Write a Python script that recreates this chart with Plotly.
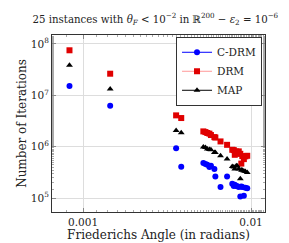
import plotly.graph_objects as go

angles = [0.00083, 0.00145, 0.00358, 0.00384,
          0.0052, 0.00535, 0.00549, 0.00565, 0.00577, 0.00605, 0.00613,
          0.00658, 0.00720, 0.00773, 0.00789, 0.00800, 0.00817, 0.00828,
          0.00845, 0.00863, 0.00875, 0.00887, 0.00906, 0.00925, 0.00949]

drm = [7.54e7, 2.64e7, 4.08e6, 3.62e6,
       1.99e6, 1.93e6, 1.85e6, 1.80e6, 1.69e6, 1.54e6, 1.51e6,
       1.27e6, 1.09e6, 8.73e5, 8.61e5, 6.97e5, 8.12e5, 7.36e5,
       8.12e5, 7.29e5, 4.70e5, 6.58e5, 5.75e5, 6.50e5, 6.67e5]

map_ = [3.85e7, 1.33e7, 2.08e6, 1.87e6,
        9.85e5, 9.64e5, 9.0e5, 8.81e5, 8.73e5, 7.76e5, 7.69e5,
        6.67e5, 5.75e5, 4.14e5, 4.02e5, 3.67e5, 4.26e5, 4.20e5,
        3.67e5, 2.38e5, 3.51e5, 3.47e5, 3.36e5, 3.31e5, 3.16e5]

cdrm = [1.52e7, 6.28e6, 9.4e5, 4.07e5,
        4.81e5, 4.59e5, 4.46e5, 4.02e5, 4.26e5, 3.67e5, 2.65e5,
        1.64e5, 2.65e5, 1.90e5, 1.73e5, 1.83e5, 1.73e5, 1.71e5,
        1.64e5, 1.08e5, 1.68e5, 1.64e5, 1.11e5, 1.60e5, 1.55e5]

y_ticks = [1e5, 1e6, 1e7, 1e8]
y_labels = ["10<sup>5</sup>", "10<sup>6</sup>", "10<sup>7</sup>", "10<sup>8</sup>"]
x_ticks = [0.001, 0.01]
x_labels = ["0.001", "0.01"]

FONT = "DejaVu Serif"

series = [
    ("C-DRM", cdrm, "blue", "blue", "circle", 6),
    ("DRM", drm, "#e00000", "#ff9999", "square", 6),
    ("MAP", map_, "black", "black", "triangle-up", 6),
]

fig = go.Figure()
for name, vals, col, lcol, sym, sz in series:
    fig.add_trace(go.Scatter(x=angles, y=vals, mode="markers", name=name,
                             showlegend=False,
                             marker=dict(color=col, symbol=sym, size=sz)))
for name, vals, col, lcol, sym, sz in series:
    fig.add_trace(go.Scatter(x=[None], y=[None], mode="lines+markers", name=name,
                             line=dict(color=lcol, width=1),
                             marker=dict(color=col, symbol=sym, size=sz)))

axis_common = dict(
    type="log", showline=True, linecolor="#333", linewidth=1, mirror="ticks",
    ticks="inside", ticklen=4, tickcolor="#888",
    showgrid=True, gridcolor="#dddddd", gridwidth=1, zeroline=False,
    minor=dict(ticks="inside", ticklen=2, tickcolor="#aaa", showgrid=False),
    tickfont=dict(family=FONT, size=10.5, color="#222"),
)

fig.update_layout(
    width=289, height=243,
    margin=dict(l=44, r=32, t=27, b=39),
    paper_bgcolor="white", plot_bgcolor="white",
    title=dict(text="25 instances with <i>θ<sub>F</sub></i> &lt; 10<sup>−2</sup> in ℝ<sup>200</sup> − <i>ε</i><sub>2</sub> = 10<sup>−6</sup>",
               x=0.51, xanchor="center", y=0.955, yanchor="middle",
               font=dict(family=FONT, size=10.2, color="#222")),
    xaxis=dict(axis_common, range=[-3.185, -1.917], tickvals=x_ticks, ticktext=x_labels,
               title=dict(text="Friederichs Angle (in radians)", standoff=1,
                          font=dict(family=FONT, size=12, color="#222"))),
    yaxis=dict(axis_common, range=[4.73, 8.175], tickvals=y_ticks, ticktext=y_labels,
               title=dict(text="Number of Iterations", standoff=1,
                          font=dict(family=FONT, size=12, color="#222"))),
    legend=dict(x=0.986, y=0.99, xanchor="right", yanchor="top",
                bordercolor="#333", borderwidth=1, bgcolor="white",
                font=dict(family=FONT, size=10.5, color="#222"),
                itemwidth=30, tracegroupgap=0),
)

fig.write_html("out.html")
